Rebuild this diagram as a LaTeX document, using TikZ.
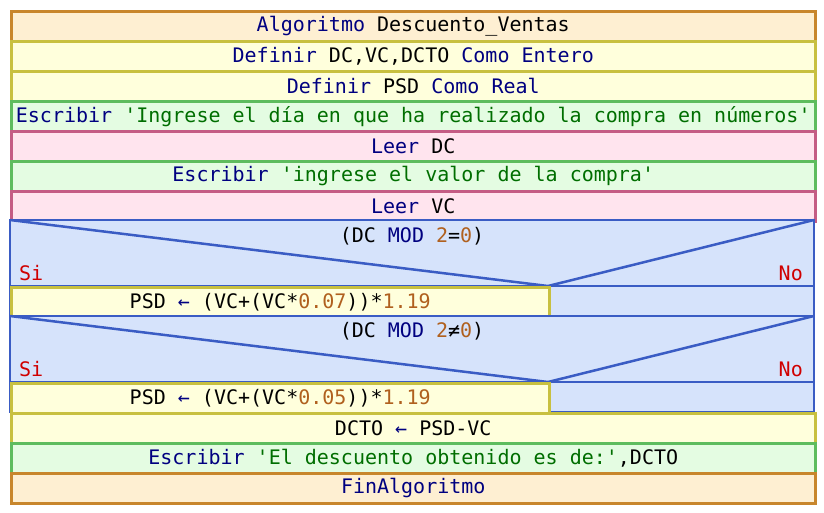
\documentclass[tikz,border=0pt]{standalone}
\usepackage{fontspec}
\setmonofont{DejaVu Sans Mono}
\definecolor{orfill}{HTML}{FEEFD2}
\definecolor{ordraw}{HTML}{C8862C}
\definecolor{yefill}{HTML}{FFFFDC}
\definecolor{yedraw}{HTML}{C8C040}
\definecolor{grfill}{HTML}{E4FCE2}
\definecolor{grdraw}{HTML}{5EBC5E}
\definecolor{pifill}{HTML}{FFE4EE}
\definecolor{pidraw}{HTML}{C45C84}
\definecolor{blfill}{HTML}{D6E3FB}
\definecolor{bldraw}{HTML}{3A5CC4}
\definecolor{kw}{HTML}{000080}
\definecolor{num}{HTML}{B0601E}
\definecolor{str}{HTML}{006E00}
\definecolor{sino}{HTML}{D00000}
\newcommand{\K}[1]{\textcolor{kw}{#1}}
\newcommand{\N}[1]{\textcolor{num}{#1}}
\newcommand{\St}[1]{\textcolor{str}{#1}}
\begin{document}
\begin{tikzpicture}[x=1pt,y=-1pt,
  every node/.style={font=\ttfamily\fontsize{20}{20}\selectfont, inner sep=0pt},
  rowbox/.style={line width=2.5pt, minimum width=804pt, minimum height=30pt, anchor=north west, draw},
  orrow/.style={rowbox, fill=orfill, draw=ordraw},
  yerow/.style={rowbox, fill=yefill, draw=yedraw},
  grrow/.style={rowbox, fill=grfill, draw=grdraw},
  pirow/.style={rowbox, fill=pifill, draw=pidraw},
  branchbox/.style={line width=2.5pt, minimum width=538pt, minimum height=30pt, anchor=north west, draw=yedraw, fill=yefill},
  decbox/.style={line width=2.5pt, fill=blfill, draw=bldraw},
  decline/.style={line width=2.5pt, draw=bldraw},
  sinolab/.style={text=sino}
]
\useasboundingbox (0,0) rectangle (824,512);
\node[orrow] (r1) at (10,10) {\K{Algoritmo} Descuento\_Ventas};
\node[yerow] (r2) at (10,40) {\K{Definir} DC,VC,DCTO \K{Como Entero}};
\node[yerow] (r3) at (10,70) {\K{Definir} PSD \K{Como Real}};
\node[grrow] (r4) at (10,100) {\K{Escribir} \St{'Ingrese el día en que ha realizado la compra en números'}};
\node[pirow] (r5) at (10,130) {\K{Leer} DC};
\node[grrow] (r6) at (10,160) {\K{Escribir} \St{'ingrese el valor de la compra'}};
\node[pirow] (r7) at (10,190) {\K{Leer} VC};
% decision 1
\path[decbox] (10,220) rectangle (814,316);
\draw[decline] (10,220) -- (548,286) -- (814,220);
\draw[decline] (10,286) -- (814,286);
\node (c1) at (412,236) {(DC \K{MOD} \N{2}=\N{0})};
\node[sinolab, anchor=west] (si1) at (19,273) {Si};
\node[sinolab, anchor=east] (no1) at (803,273) {No};
\node[branchbox] (b1) at (10,286) {PSD \K{←} (VC+(VC*\N{0.07}))*\N{1.19}};
% decision 2
\path[decbox] (10,316) rectangle (814,412);
\draw[decline] (10,316) -- (548,382) -- (814,316);
\draw[decline] (10,382) -- (814,382);
\node (c2) at (412,331) {(DC \K{MOD} \N{2}≠\N{0})};
\node[sinolab, anchor=west] (si2) at (19,369) {Si};
\node[sinolab, anchor=east] (no2) at (803,369) {No};
\node[branchbox] (b2) at (10,382) {PSD \K{←} (VC+(VC*\N{0.05}))*\N{1.19}};
\node[yerow] (r8) at (10,412) {DCTO \K{←} PSD-VC};
\node[grrow] (r9) at (10,442) {\K{Escribir} \St{'El descuento obtenido es de:'},DCTO};
\node[orrow] (r10) at (10,472) {\K{FinAlgoritmo}};
\end{tikzpicture}
\end{document}
